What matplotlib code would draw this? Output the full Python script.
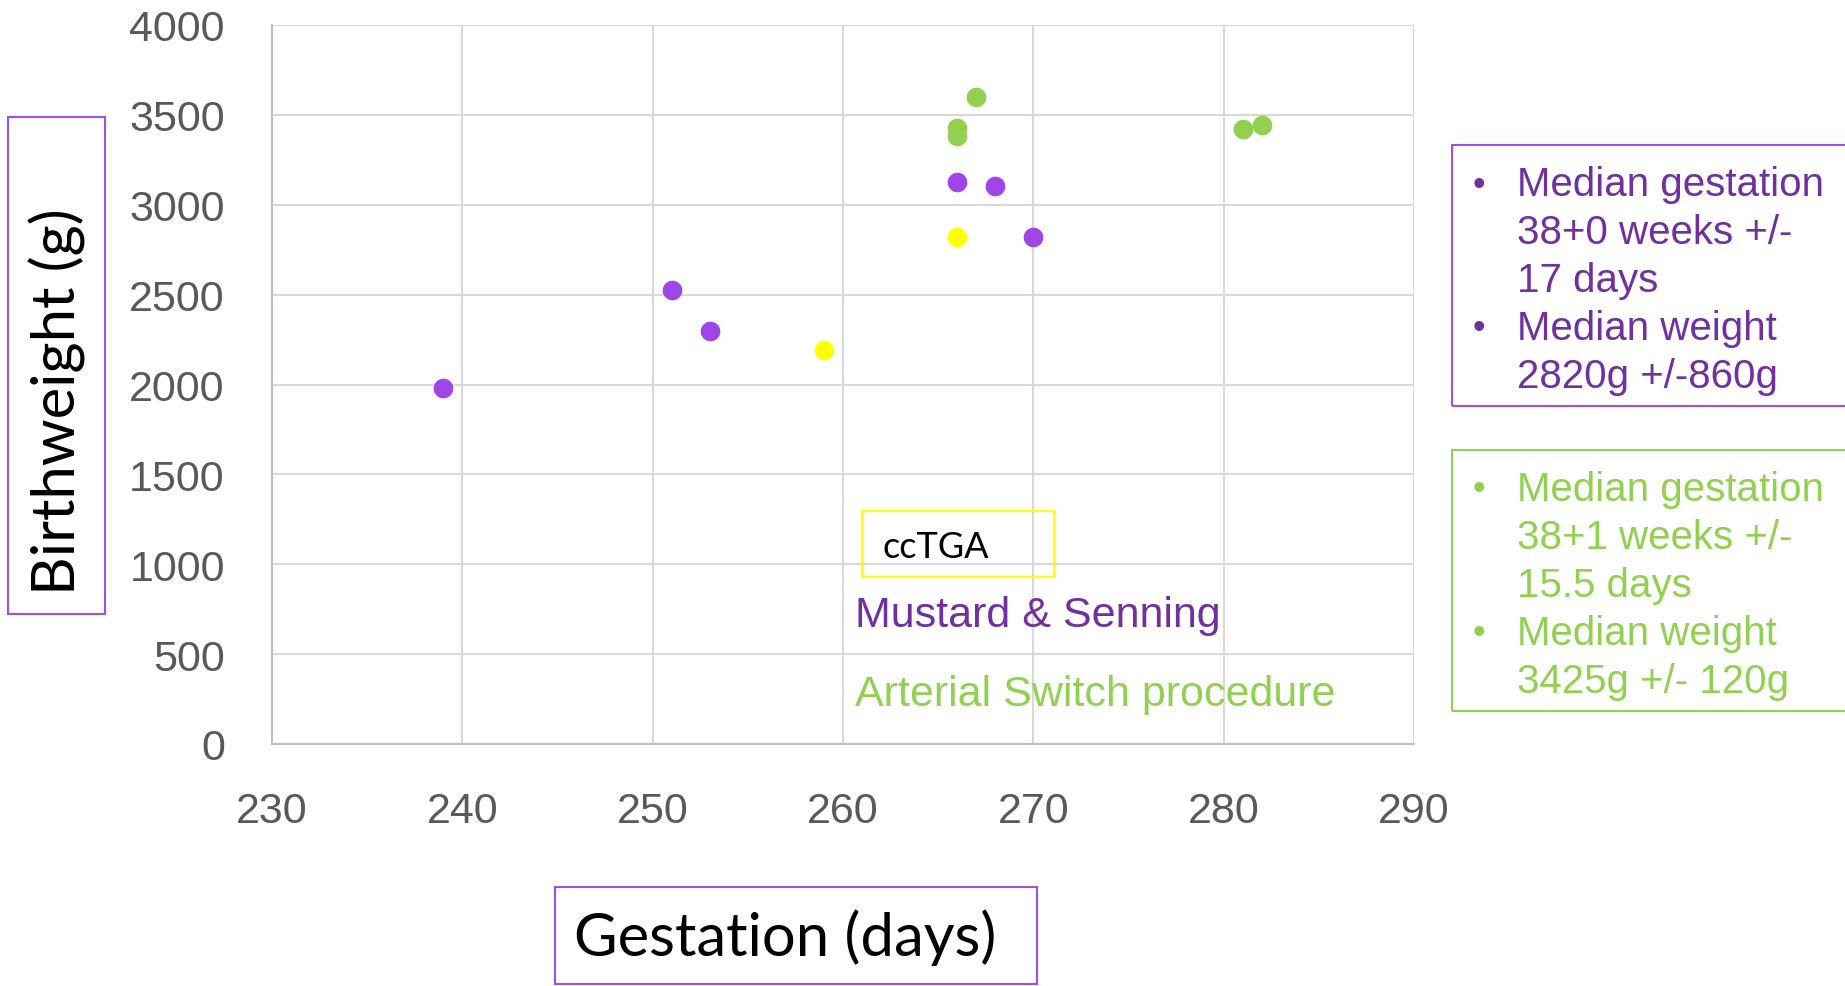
import matplotlib
matplotlib.use('Agg')
import matplotlib.pyplot as plt
from matplotlib.patches import Rectangle

# gestation (days) and birthweight (g)
mustard_x = [239, 251, 253, 266, 268, 270]
mustard_y = [1980, 2525, 2300, 3125, 3105, 2820]
switch_x = [266, 266, 267, 281, 282]
switch_y = [3425, 3385, 3600, 3420, 3445]
cctga_x = [259, 266]
cctga_y = [2190, 2820]

x_ticks = [230, 240, 250, 260, 270, 280, 290]
y_ticks = [0, 500, 1000, 1500, 2000, 2500, 3000, 3500, 4000]

purple_box = ['Median gestation', '38+0 weeks +/-', '17 days', 'Median weight', '2820g +/-860g']
green_box = ['Median gestation', '38+1 weeks +/-', '15.5 days', 'Median weight', '3425g +/- 120g']

W, H = 1845, 987
fig = plt.figure(figsize=(W / 100, H / 100), dpi=100)
ax = fig.add_axes([272 / W, 1 - 745 / H, (1414 - 272) / W, (745 - 26) / H])

ax.scatter(mustard_x, mustard_y, s=200, color='#A146E6', zorder=3, linewidths=0)
ax.scatter(switch_x, switch_y, s=200, color='#92D050', zorder=3, linewidths=0)
ax.scatter(cctga_x, cctga_y, s=200, color='#FFFF00', zorder=3, linewidths=0)

ax.set_xlim(230, 290)
ax.set_ylim(0, 4000)
ax.set_xticks(x_ticks)
ax.set_yticks(y_ticks)
ax.grid(True, color='#D9D9D9', linewidth=1.5)
ax.set_axisbelow(True)
for s in ['top', 'right']:
    ax.spines[s].set_visible(False)
for s in ['left', 'bottom']:
    ax.spines[s].set_color('#BFBFBF')
    ax.spines[s].set_linewidth(1.5)
ax.tick_params(length=0, labelsize=31, labelcolor='#595959', pad=34)
for lab in ax.get_xticklabels() + ax.get_yticklabels():
    lab.set_family('Liberation Sans')

def fbox(x0, y0, x1, y1, color, lw=1.5):
    fig.patches.append(Rectangle((x0 / W, 1 - y1 / H), (x1 - x0) / W, (y1 - y0) / H,
                                 transform=fig.transFigure, fill=False, edgecolor=color, linewidth=lw))

# axis titles in boxes
fbox(8, 118, 105, 615, '#A050E0')
fig.text(57 / W, 1 - 402 / H, 'Birthweight (g)', rotation=90, ha='center', va='center',
         fontsize=43, family='Lato', color='black')
fbox(555, 888, 1037, 985, '#A050E0')
fig.text(785 / W, 1 - 938 / H, 'Gestation (days)', ha='center', va='center',
         fontsize=43, family='Lato', color='black')

# in-plot legend
fbox(862, 512, 1054, 578, '#FFFF00')
fig.text(882 / W, 1 - 548 / H, 'ccTGA', ha='left', va='center', fontsize=26, family='Lato', color='black')
fig.text(855 / W, 1 - 616 / H, 'Mustard & Senning', ha='left', va='center', fontsize=31,
         family='Liberation Sans', color='#7030A0')
fig.text(855 / W, 1 - 695 / H, 'Arterial Switch procedure', ha='left', va='center', fontsize=31,
         family='Liberation Sans', color='#92D050')

# summary boxes
def summary(lines, y_lines, color, box_color, y0, y1):
    fbox(1452, y0, 1850, y1, box_color)
    for i, (t, yy) in enumerate(zip(lines, y_lines)):
        if i in (0, 3):
            fig.text(1479 / W, 1 - yy / H, '\u2022', ha='center', va='center', fontsize=26,
                     family='Liberation Sans', color=color)
        fig.text(1517 / W, 1 - yy / H, t, ha='left', va='center', fontsize=29,
                 family='Liberation Sans', color=color)

summary(purple_box, [185, 233, 281, 329, 377], '#7030A0', '#A050E0', 146, 407)
summary(green_box, [490, 538, 586, 634, 682], '#92D050', '#92D050', 451, 712)

fig.savefig('out.png', dpi=100)
